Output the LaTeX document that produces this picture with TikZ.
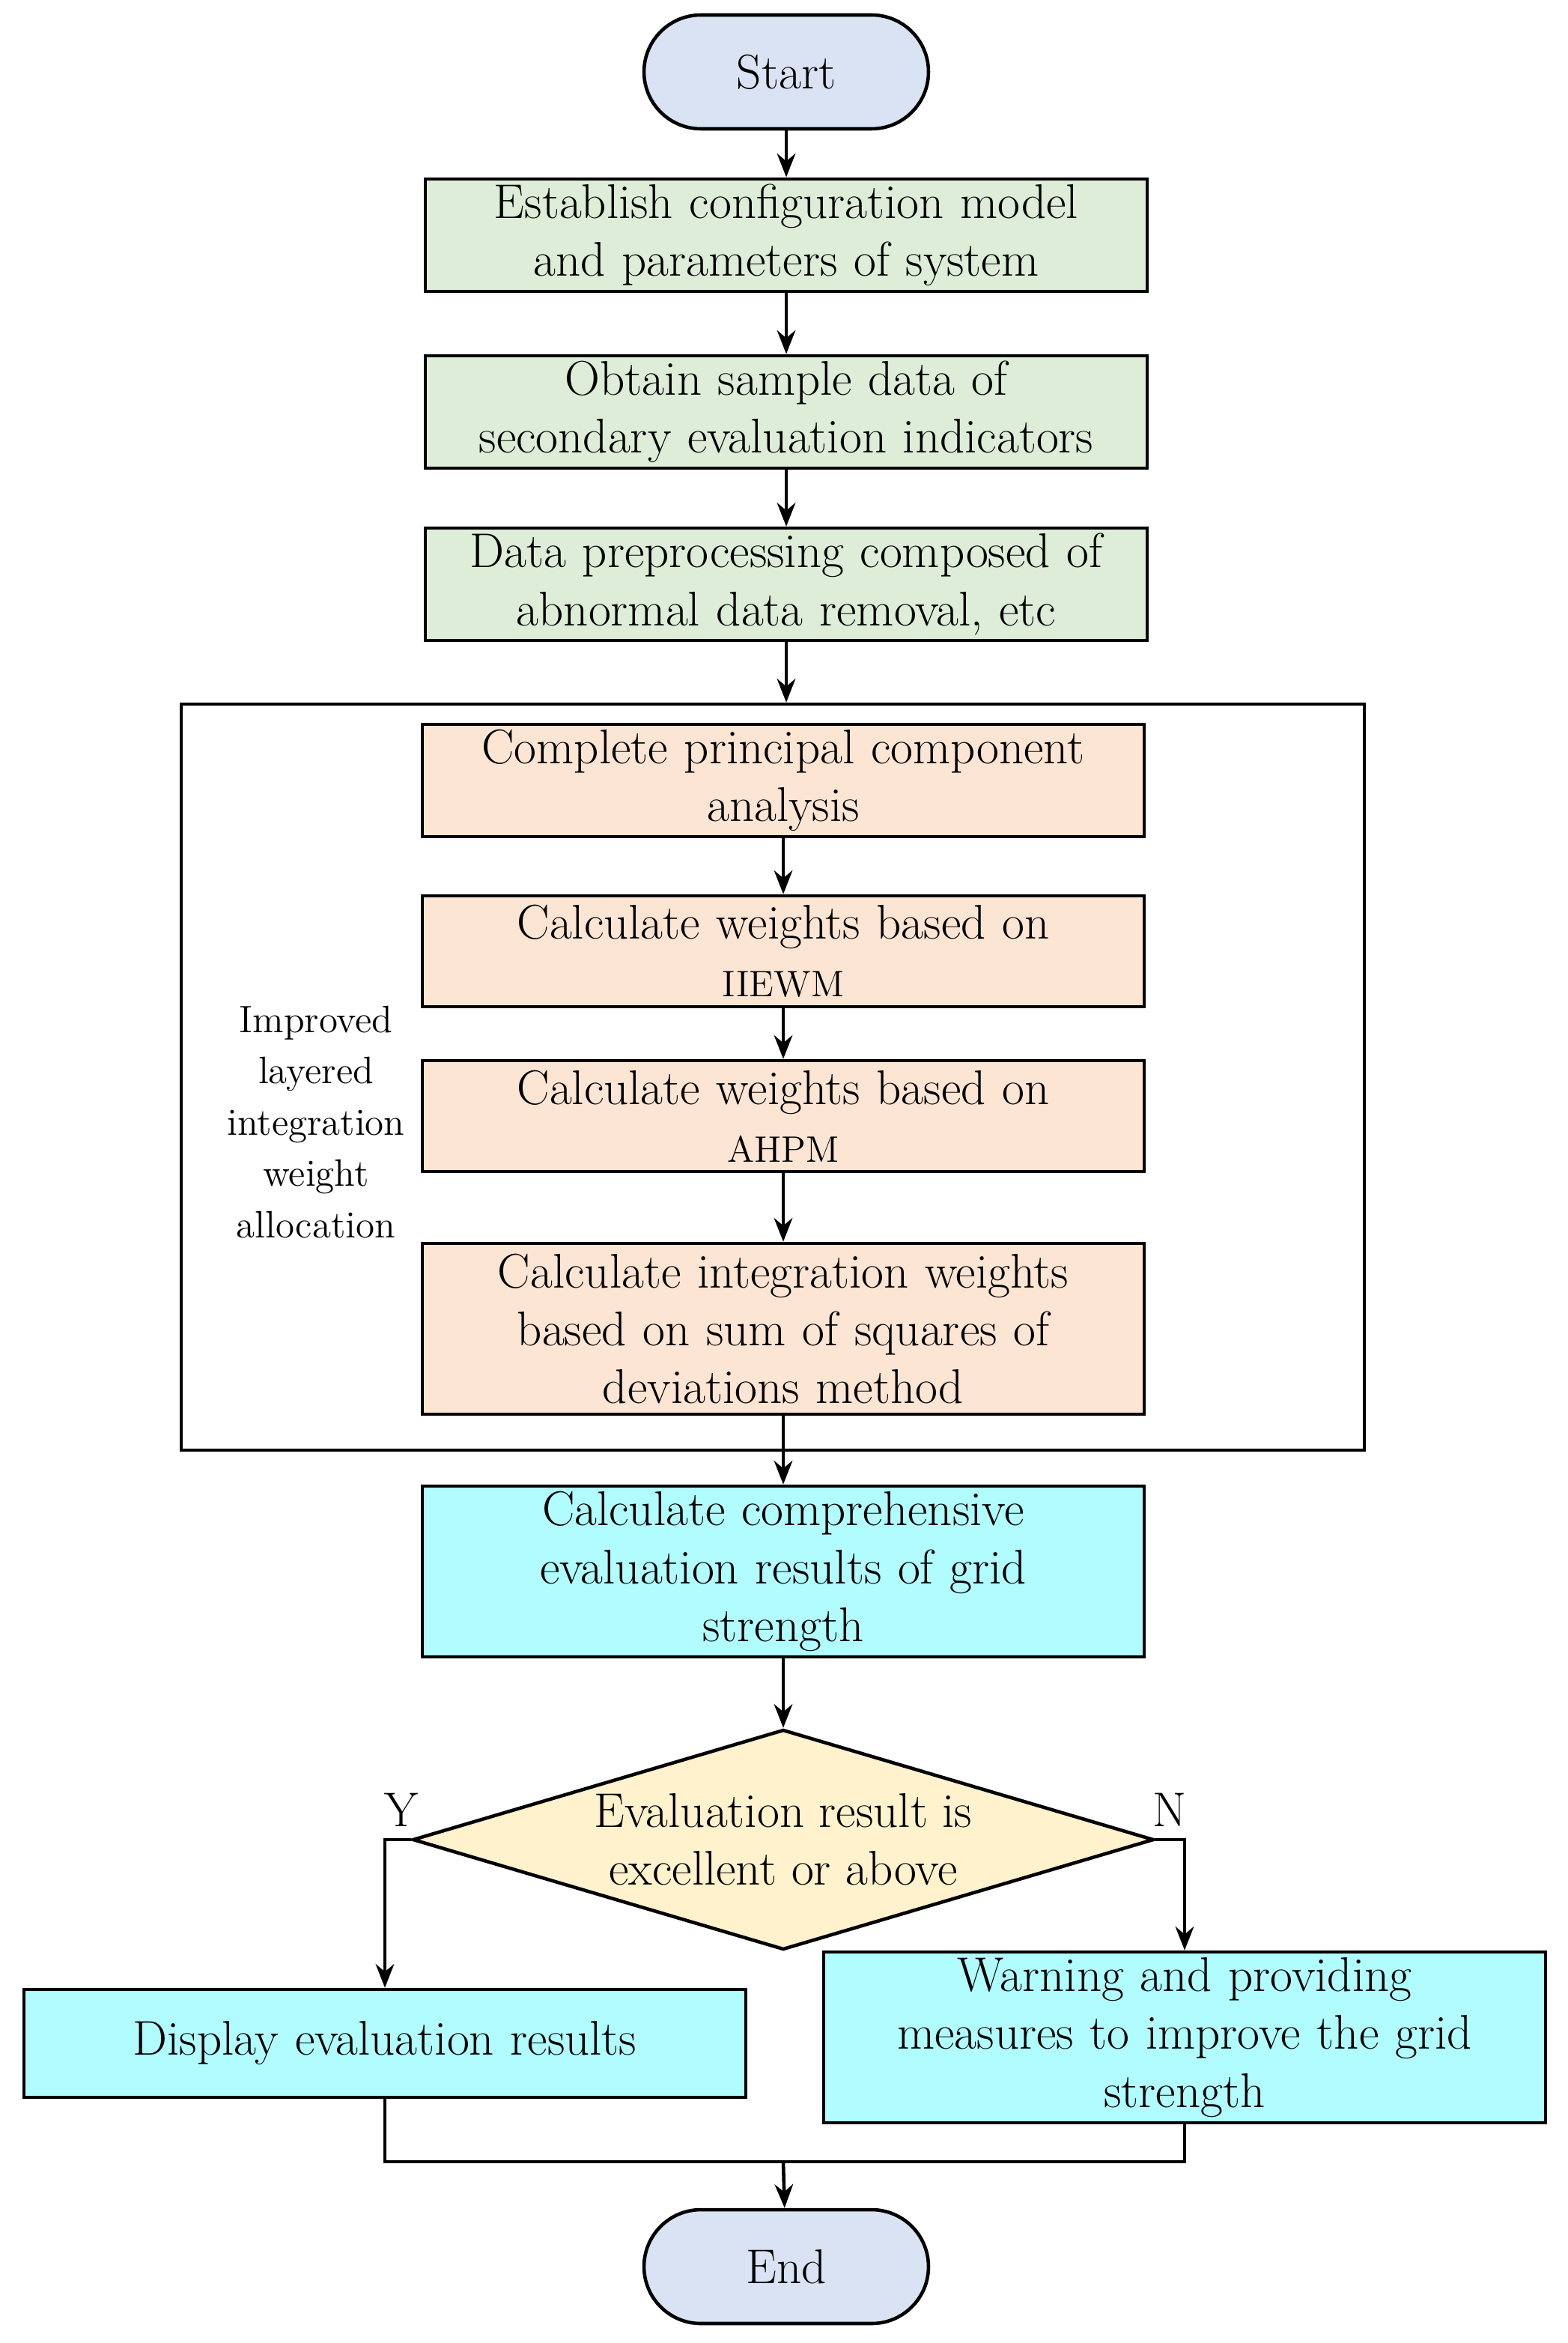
\documentclass[tikz,border=0pt]{standalone}
\usepackage{tikz}
\usetikzlibrary{shapes.geometric,arrows.meta}
\definecolor{cterm}{HTML}{D9E3F3}
\definecolor{cgreen}{HTML}{DDEDD8}
\definecolor{cpeach}{HTML}{FDE5D4}
\definecolor{ccyan}{HTML}{B0FCFF}
\definecolor{cdia}{HTML}{FFF2CC}
\begin{document}
\begin{tikzpicture}[x=0.02cm,y=-0.02cm,
  every node/.style={font=\fontsize{18.5}{22}\selectfont,align=center,line width=1.3pt,draw,inner sep=2pt},
  box/.style={rectangle,minimum width=9.6cm,minimum height=1.48cm,text width=9.5cm},
  term/.style={rectangle,rounded corners=0.76cm,fill=cterm,minimum width=3.8cm,minimum height=1.52cm},
  arr/.style={line width=1.3pt,-{Stealth[length=9pt,width=7pt]}},
  ln/.style={line width=1.3pt}]
\useasboundingbox (0,0) rectangle (1047,1564);
\node[term] (start) at (525,48) {Start};
\node[box,fill=cgreen] (b1) at (525,157) {Establish configuration model\\and parameters of system};
\node[box,fill=cgreen] (b2) at (525,275) {Obtain sample data of\\secondary evaluation indicators};
\node[box,fill=cgreen] (b3) at (525,390) {Data preprocessing composed of\\abnormal data removal, etc};
\node[draw,minimum width=15.8cm,minimum height=9.96cm] (frame) at (516,719) {};
\node[box,fill=cpeach] (b4) at (523,521) {Complete principal component\\analysis};
\node[box,fill=cpeach] (b5) at (523,635) {Calculate weights based on\\{\fontsize{14}{18}\selectfont IIEWM}};
\node[box,fill=cpeach] (b6) at (523,745) {Calculate weights based on\\{\fontsize{14}{18}\selectfont AHPM}};
\node[box,fill=cpeach,minimum height=2.28cm] (b7) at (523,887) {Calculate integration weights\\based on sum of squares of\\deviations method};
\node[draw=none,font=\fontsize{14.5}{19.5}\selectfont] (lab) at (211,749) {Improved\\layered\\integration\\weight\\allocation};
\node[box,fill=ccyan,minimum height=2.28cm] (b8) at (523,1049) {Calculate comprehensive\\evaluation results of grid\\strength};
\node[diamond,fill=cdia,aspect=3.37,minimum width=9.9cm,minimum height=2.94cm,inner sep=0pt] (dia) at (523,1228) {Evaluation result is\\excellent or above};
\node[draw=none] (Y) at (268,1208) {Y};
\node[draw=none] (N) at (781,1208) {N};
\node[box,fill=ccyan,minimum height=1.44cm] (b9) at (257,1364) {Display evaluation results};
\node[box,fill=ccyan,minimum height=2.28cm] (b10) at (791,1360) {Warning and providing\\measures to improve the grid\\strength};
\node[term] (end) at (525,1513) {End};
\coordinate (m) at (523,1443);
\draw[arr] (start) -- (b1);
\draw[arr] (b1) -- (b2);
\draw[arr] (b2) -- (b3);
\draw[arr] (b3) -- (frame.north -| b3);
\draw[arr] (b4) -- (b5);
\draw[arr] (b5) -- (b6);
\draw[arr] (b6) -- (b7);
\draw[arr] (b7.south) -- (b8.north);
\draw[arr] (b8) -- (dia);
\draw[arr] (dia.west) -| (b9.north);
\draw[arr] (dia.east) -| (b10.north);
\draw[ln] (b9.south) |- (m) -| (b10.south);
\draw[arr] (m) -- (end);
\end{tikzpicture}
\end{document}
